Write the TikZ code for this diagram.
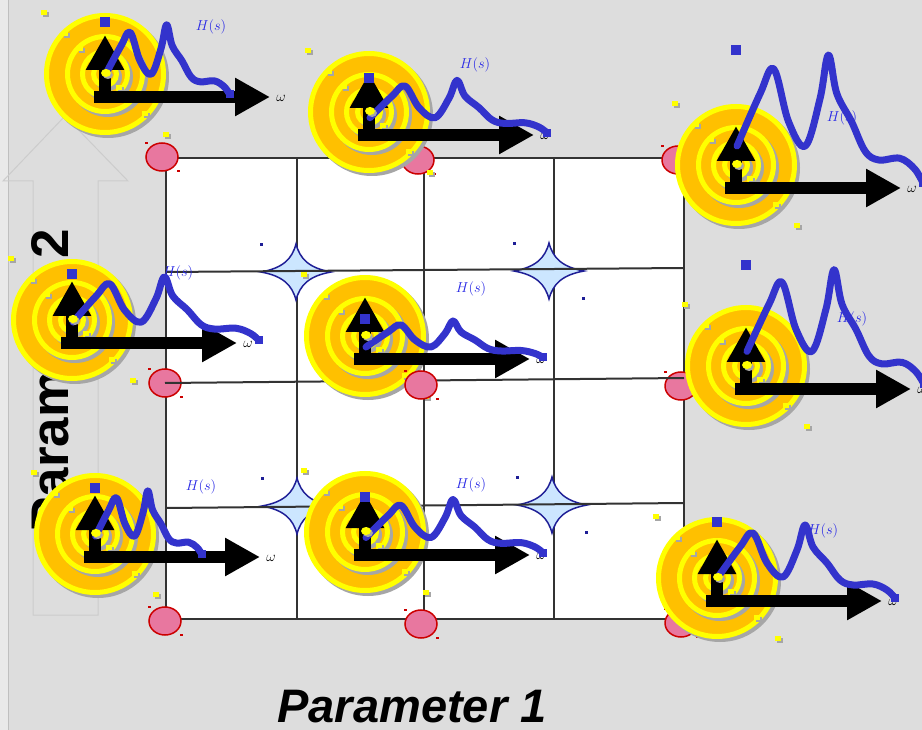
\documentclass[tikz,border=0pt]{standalone}
\usepackage{fontspec}
\newfontfamily\labelfont{Liberation Sans}
\usetikzlibrary{arrows.meta, shapes.geometric}
\definecolor{bgcolor}{RGB}{221,221,221}
\definecolor{stripcolor}{RGB}{233,233,233}
\definecolor{ringyellow}{RGB}{255,255,0}
\definecolor{ringorange}{RGB}{255,192,0}
\definecolor{shadowgray}{RGB}{166,166,166}
\definecolor{curveblue}{RGB}{51,51,204}
\definecolor{labelblue}{RGB}{40,40,230}
\definecolor{polepink}{RGB}{232,119,159}
\definecolor{polered}{RGB}{204,0,0}
\definecolor{starfill}{RGB}{204,230,255}
\definecolor{starline}{RGB}{30,30,150}
\definecolor{gridgray}{RGB}{51,51,51}

\tikzset{
  gridline/.style={draw=gridgray, line width=2pt},
  bigarrow/.style={draw={rgb,255:red,204;green,204;blue,204}, line width=1pt},
  axislabel/.style={inner sep=0pt, font=\labelfont\bfseries\fontsize{53}{62}\selectfont},
  pole/.style={ellipse, draw=polered, line width=1.5pt, fill=polepink,
    minimum width=32pt, minimum height=28pt, inner sep=0pt},
  ring/.style={draw=ringyellow, fill=ringorange, line width=5pt},
  axis/.style={line width=12pt, -{Triangle[length=35pt,width=36pt]}},
  hs/.style={text=labelblue, font=\fontsize{14}{16}\selectfont},
  resp/.style={curveblue, line width=7pt, line cap=round, line join=round},
}

% small selection square with its shadow
\newcommand{\handle}[3]{%
  \fill[shadowgray] (#1-1,#2-1) rectangle ++(6,5);
  \fill[#3] (#1-3,#2-3) rectangle ++(6,5);
}

% pole: pink ellipse with two red corner marks
\newcommand{\pole}[3]{%
  \node[pole] (#1) at (#2,#3) {};
  \fill[polered] (#2-17,#3-15) rectangle ++(3,2);
  \fill[polered] (#2+15,#3+13) rectangle ++(3,2);
}

% four-point star
\newcommand{\sparkle}[2]{%
  \draw[starline, fill=starfill, line width=1.5pt]
    (#1,#2-28) .. controls (#1+4,#2-13) and (#1+13,#2-4) .. (#1+35,#2)
    .. controls (#1+13,#2+4) and (#1+4,#2+13) .. (#1,#2+28)
    .. controls (#1-4,#2+13) and (#1-13,#2+4) .. (#1-35,#2)
    .. controls (#1-13,#2-4) and (#1-4,#2-13) .. cycle;
  \fill[starline] (#1-36,#2-29) rectangle ++(3,3);
  \fill[starline] (#1+33,#2+26) rectangle ++(3,3);
}

% response icon: name, origin x, origin y, curve xscale, curve yscale
\newcommand{\respicon}[5]{%
  \begin{scope}[shift={(#2,#3)}]
    % target rings
    \foreach \rad in {61,40,25,14} {
      \fill[shadowgray] (3,-20) circle (\rad);
      \draw[ring] (0,-23) circle (\rad-2.5);
    }
    \foreach \rad in {61,40,25,14} {
      \handle{-\rad}{-23-\rad}{ringyellow}
      \handle{\rad}{-23+\rad}{ringyellow}
    }
    % axes
    \draw[axis] (-11,0) -- (165,0);
    \draw[axis] (0,6) -- (0,-62);
    \node[hs] (#1-H) at (106,-70) {$H(s)$};
    \node[font=\fontsize{14}{16}\selectfont] (#1-w) at (176,1) {$\omega$};
    % magnitude curve
    \begin{scope}[xscale=#4, yscale=#5]
      \draw[resp] plot[smooth, tension=0.6] coordinates {(1,-24) (23,-54)
        (36,-68) (50,-38) (66,-24) (80,-51) (88,-76) (96,-54) (110,-38)
        (123,-21) (136,-16) (156,-17) (170,-11) (178,-3)};
    \end{scope}
    \fill[shadowgray] (3,-22) ellipse (5 and 4);
    \fill[ringyellow] (1,-24) ellipse (5 and 4);
    \fill[curveblue] (-5,-79*#5-5) rectangle ++(10,10);
    \fill[curveblue] (178*#4-4,-3*#5-4) rectangle ++(8,8);
  \end{scope}
}

\begin{document}
\begin{tikzpicture}[x=1pt, y=-1pt]
  \useasboundingbox (0,0) rectangle (922,730);
  % backdrop
  \fill[bgcolor] (0,0) rectangle (922,730);
  \fill[stripcolor] (0,0) rectangle (8,730);
  \draw[black!25, line width=1pt] (8.5,0) -- (8.5,730);

  % faint arrow behind the second parameter
  \draw[bigarrow] (33,615) -- (33,181) -- (3,181) -- (65,116) -- (128,181)
    -- (98,181) -- (98,615) -- cycle;
  \node[axislabel, rotate=90, anchor=base] (par2) at (68,381) {Parameter 2};
  \node[axislabel, font=\labelfont\bfseries\itshape\fontsize{47}{56}\selectfont,
    anchor=base] (par1) at (412,722) {Parameter 1};

  % parameter grid
  \draw[gridline, fill=white] (166,158) rectangle (684,619);
  \foreach \gx in {297,424,554}
    \draw[gridline] (\gx,158) -- (\gx,619);
  \sparkle{296}{272}
  \sparkle{549}{271}
  \sparkle{297}{506}
  \sparkle{552}{505}
  \pole{p11}{162}{157}
  \pole{p12}{418}{160}
  \pole{p13}{678}{160}
  \pole{p21}{165}{383}
  \pole{p23}{681}{386}
  \pole{p31}{165}{621}
  \pole{p32}{421}{624}
  \pole{p33}{681}{623}
  \draw[gridline] (166,272) -- (684,268);
  \draw[gridline] (p21.center) -- (684,378);
  \draw[gridline] (166,508) -- (684,503);

  % responses
  \respicon{r11}{105}{97}{0.70}{0.95}
  \respicon{r12}{369}{135}{1.0}{0.72}
  \respicon{r13}{736}{188}{1.05}{1.75}
  \respicon{r21}{72}{343}{1.05}{0.87}
  \respicon{r22}{365}{359}{1.0}{0.5}
  \respicon{r23}{746}{389}{1.0}{1.57}
  \respicon{r31}{95}{557}{0.6}{0.87}
  \respicon{r32}{365}{555}{1.0}{0.73}
  \respicon{r33}{717}{601}{1.0}{1.0}
  \pole{p22}{421}{385}
\end{tikzpicture}
\end{document}
